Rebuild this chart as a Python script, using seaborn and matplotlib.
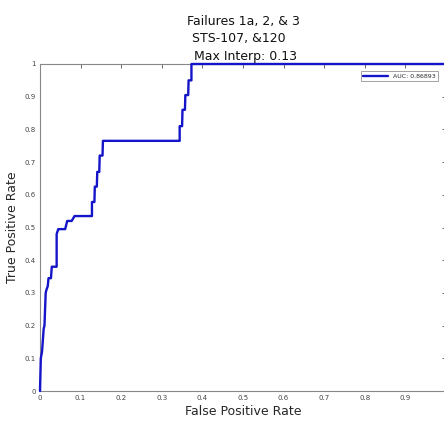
import matplotlib
matplotlib.use("Agg")
import matplotlib.pyplot as plt
import seaborn as sns
import pandas as pd

# ROC curve vertices
fpr = [0, 0.002, 0.005, 0.009, 0.011, 0.014, 0.016, 0.019, 0.021, 0.027, 0.029, 0.041,
       0.041, 0.045, 0.062, 0.067, 0.078, 0.085, 0.128, 0.128, 0.134, 0.135, 0.140,
       0.141, 0.146, 0.147, 0.154, 0.155, 0.344, 0.344, 0.350, 0.351, 0.357, 0.358,
       0.365, 0.366, 0.373, 0.373, 1.0]
tpr = [0, 0.10, 0.12, 0.19, 0.20, 0.30, 0.31, 0.32, 0.345, 0.345, 0.38, 0.38,
       0.48, 0.495, 0.495, 0.52, 0.52, 0.535, 0.535, 0.578, 0.578, 0.625, 0.625,
       0.67, 0.67, 0.72, 0.72, 0.765, 0.765, 0.81, 0.81, 0.86, 0.86, 0.905,
       0.905, 0.95, 0.95, 1.0, 1.0]
auc = 0.86893
x_ticks = [0, 0.1, 0.2, 0.3, 0.4, 0.5, 0.6, 0.7, 0.8, 0.9]
y_ticks = [0, 0.1, 0.2, 0.3, 0.4, 0.5, 0.6, 0.7, 0.8, 0.9, 1]

df = pd.DataFrame({"fpr": fpr, "tpr": tpr})

sns.set_style("white")
plt.rcParams["font.family"] = ["DejaVu Sans"]

fig = plt.figure(figsize=(4.44, 4.25), dpi=100)
ax = fig.add_axes([40 / 444, 1 - 391 / 425, 406 / 444, 327 / 425])

sns.lineplot(data=df, x="fpr", y="tpr", sort=False, estimator=None,
             color="#1414c8", linewidth=1.7, label=f"AUC: {auc:.5f}", ax=ax)
# keep the curve on top of the frame where it runs along y = 1
for ln in ax.lines:
    ln.set_clip_on(False)
    ln.set_zorder(5)

ax.set_xlim(0, 1)
ax.set_ylim(0, 1)
ax.set_xticks(x_ticks)
ax.set_xticklabels([f"{t:g}" for t in x_ticks])
ax.set_yticks(y_ticks)
ax.set_yticklabels([f"{t:g}" for t in y_ticks])
ax.tick_params(direction="in", length=3, width=0.6, colors="#555555",
               labelsize=5, top=True, right=True, pad=3)
ax.tick_params(axis="both", labelcolor="#444444")
for sp in ax.spines.values():
    sp.set_color("#888888")
    sp.set_linewidth(0.8)

ax.set_xlabel("False Positive Rate", fontsize=9, labelpad=3)
ax.set_ylabel("True Positive Rate", fontsize=9, labelpad=4)
ax.set_title("Failures 1a, 2, & 3\nSTS-107, &120  \n Max Interp: 0.13",
             fontsize=9, linespacing=1.45, pad=3, color="#111111")

leg = ax.legend(loc="upper right", fontsize=4.5, frameon=True, fancybox=False,
                borderpad=0.4, handlelength=4, borderaxespad=0.6,
                bbox_to_anchor=(0.9906, 0.99))
leg.get_frame().set_edgecolor("#777777")
leg.get_frame().set_linewidth(0.6)
leg.set_zorder(6)

fig.savefig("out.png", dpi=100)
